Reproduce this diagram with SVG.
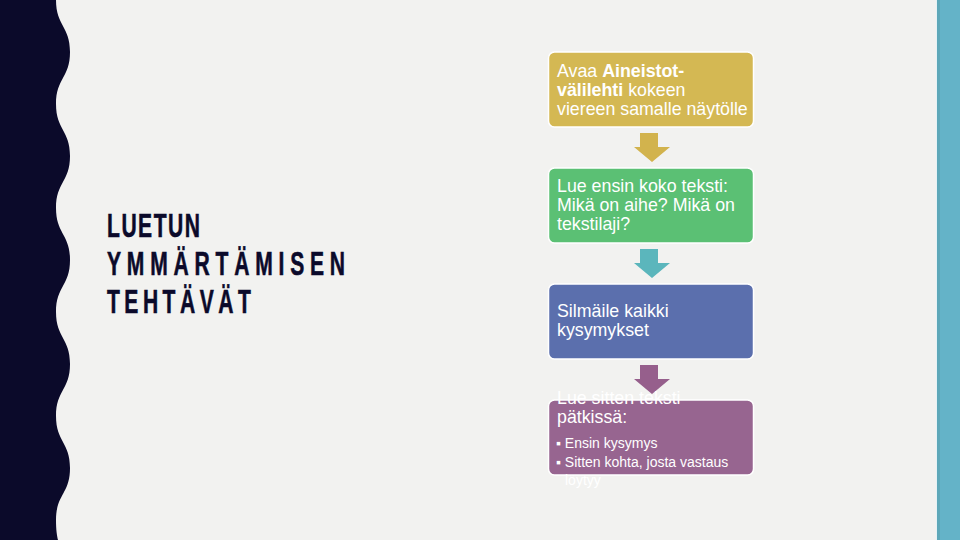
<svg xmlns="http://www.w3.org/2000/svg" width="960" height="540" viewBox="0 0 960 540">
  <defs>
    <style>
      .box { stroke: #FFFFFF; stroke-width: 1.5; }
      .t { font-family: "Liberation Sans", Arial, sans-serif; font-size: 17.8px; fill: #FFFFFF; }
      .b { font-family: "Liberation Sans", Arial, sans-serif; font-size: 14px; fill: #FFFFFF; }
      .title { font-family: "Liberation Sans", Arial, sans-serif; font-weight: bold; font-size: 34px; fill: #0B0A2A; stroke: #0B0A2A; stroke-width: 0.6; }
    </style>
  </defs>
  <rect x="0" y="0" width="960" height="540" fill="#F2F2F0"/>
  <path d="M0,0 L56,0 C56,26 70,26 70,52 C70,78 56,78 56,104 C56,130 70,130 70,156 C70,182 56,182 56,208 C56,234 70,234 70,260 C70,286 56,286 56,312 C56,338 70,338 70,364 C70,390 56,390 56,416 C56,442 70,442 70,468 C70,494 56,494 56,520 C56,530 57,536 58,540 L0,540 Z" fill="#0B0A2A"/>
  <rect x="936" y="0" width="1" height="540" fill="#E6F2F5"/>
  <rect x="937" y="0" width="23" height="540" fill="#64B3C8"/>
  <rect x="937" y="0" width="3" height="540" fill="#5EA8B9"/>

  <g id="title">
    <text class="title" transform="translate(107,237) scale(0.62,1)" textLength="150" lengthAdjust="spacing">LUETUN</text>
    <text class="title" transform="translate(107,275) scale(0.62,1)" textLength="384" lengthAdjust="spacing">YMMÄRTÄMISEN</text>
    <text class="title" transform="translate(107,313) scale(0.62,1)" textLength="232" lengthAdjust="spacing">TEHTÄVÄT</text>
  </g>

  <g id="connectors">
    <polygon points="640,133 658,133 658,147 670,147 652,162 634,147 640,147" fill="#D2B34D"/>
    <polygon points="640,249 658,249 658,263 670,263 652,278 634,263 640,263" fill="#5BB6BC"/>
    <polygon points="640,365 658,365 658,379 670,379 652,394 634,379 640,379" fill="#965F8C"/>
  </g>

  <g id="node1">
    <rect class="box" x="548.5" y="52" width="205" height="75" rx="6" fill="#D4B853"/>
    <text class="t" x="557" y="77">Avaa <tspan font-weight="bold">Aineistot-</tspan></text>
    <text class="t" x="557" y="96"><tspan font-weight="bold">välilehti</tspan> kokeen</text>
    <text class="t" x="557" y="115">viereen samalle näytölle</text>
  </g>

  <g id="node2">
    <rect class="box" x="548.5" y="168" width="205" height="75" rx="6" fill="#5BC074"/>
    <text class="t" x="557" y="192">Lue ensin koko teksti:</text>
    <text class="t" x="557" y="211">Mikä on aihe? Mikä on</text>
    <text class="t" x="557" y="230">tekstilaji?</text>
  </g>

  <g id="node3">
    <rect class="box" x="548.5" y="284" width="205" height="75" rx="6" fill="#5B6FAD"/>
    <text class="t" x="557" y="317">Silmäile kaikki</text>
    <text class="t" x="557" y="336">kysymykset</text>
  </g>

  <g id="node4">
    <rect class="box" x="548.5" y="400" width="205" height="75" rx="6" fill="#976590"/>
    <text class="t" x="557" y="404">Lue sitten teksti</text>
    <text class="t" x="557" y="423">pätkissä:</text>
    <text class="b" x="556" y="448">▪ Ensin kysymys</text>
    <text class="b" x="556" y="467">▪ Sitten kohta, josta vastaus</text>
    <text class="b" x="565" y="485">löytyy</text>
  </g>
</svg>
